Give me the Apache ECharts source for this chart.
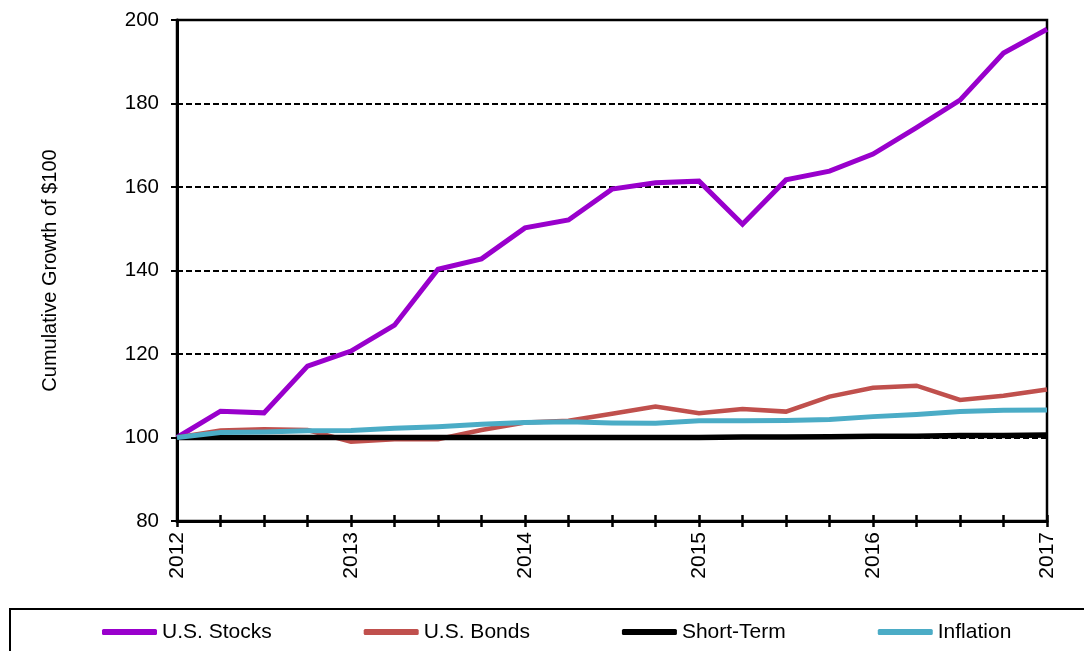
<!DOCTYPE html>
<html>
<head>
<meta charset="utf-8">
<script src="https://cdn.jsdelivr.net/npm/echarts@6/dist/echarts.min.js"></script>
<style>
  html, body { margin: 0; padding: 0; background: #fff; }
  #chart { width: 1084px; height: 651px; }
</style>
</head>
<body>
<div id="chart"></div>
<script>
// quarterly points, labels only shown on the year marks
var quarters = [
  "2012", "2012 Q2", "2012 Q3", "2012 Q4",
  "2013", "2013 Q2", "2013 Q3", "2013 Q4",
  "2014", "2014 Q2", "2014 Q3", "2014 Q4",
  "2015", "2015 Q2", "2015 Q3", "2015 Q4",
  "2016", "2016 Q2", "2016 Q3", "2016 Q4",
  "2017"
];
var stocks = [100, 106.3, 105.9, 117.1, 120.7, 126.9, 140.3, 142.8, 150.2, 152.1, 159.5,
  161.0, 161.4, 151.1, 161.7, 163.8, 167.9, 174.2, 180.8, 192.1, 197.8];
var bonds = [100, 101.7, 102.0, 101.8, 99.0, 99.6, 99.6, 101.8, 103.6, 104.0, 105.7,
  107.4, 105.8, 106.8, 106.2, 109.8, 111.9, 112.4, 109.0, 110.0, 111.5];
var shortTerm = [100, 100.0, 100.0, 100.0, 100.0, 100.0, 100.0, 100.0, 100.0, 100.0, 100.0,
  100.0, 100.0, 100.1, 100.1, 100.2, 100.3, 100.3, 100.5, 100.5, 100.6];
var inflation = [100, 101.2, 101.3, 101.6, 101.7, 102.2, 102.6, 103.2, 103.6, 103.8, 103.5,
  103.4, 104.0, 104.0, 104.1, 104.3, 105.0, 105.5, 106.2, 106.5, 106.6];
var yTicks = { min: 80, max: 200, step: 20 };

var font = "Liberation Sans, Arial, sans-serif";
var chart = echarts.init(document.getElementById("chart"));

function line(name, data, color, width) {
  return {
    name: name,
    type: "line",
    data: data,
    symbol: "none",
    color: color,
    lineStyle: { width: width, color: color, join: "miter" },
    animation: false
  };
}

chart.setOption({
  animation: false,
  grid: {
    left: 177, right: 37, top: 20, bottom: 130,
    show: true, borderColor: "#000", borderWidth: 2.5
  },
  legend: {
    left: 102, top: 621, padding: 0,
    itemWidth: 55, itemHeight: 6, itemGap: 92,
    icon: "roundRect",
    textStyle: { fontFamily: font, fontSize: 21, color: "#000", lineHeight: 22 },
    data: ["U.S. Stocks", "U.S. Bonds", "Short-Term", "Inflation"]
  },
  graphic: [{
    type: "rect",
    shape: { x: 10, y: 609, width: 1090, height: 60 },
    style: { fill: "none", stroke: "#000", lineWidth: 2 },
    silent: true
  }],
  xAxis: [{
    type: "category",
    data: quarters,
    boundaryGap: false,
    axisLine: { lineStyle: { color: "#000", width: 3 } },
    axisTick: { show: true, interval: 0, length: 6, lineStyle: { color: "#000", width: 2.5 } },
    axisLabel: {
      interval: 3, rotate: 90, margin: 11,
      fontFamily: font, fontSize: 21, color: "#000"
    },
    splitLine: { show: false }
  }, {
    // second copy so the ticks cross the axis line
    type: "category",
    data: quarters,
    boundaryGap: false,
    position: "bottom",
    axisLine: { show: false },
    axisTick: { show: true, inside: true, interval: 0, length: 6, lineStyle: { color: "#000", width: 2.5 } },
    axisLabel: { show: false },
    splitLine: { show: false }
  }],
  yAxis: {
    type: "value",
    min: yTicks.min, max: yTicks.max, interval: yTicks.step,
    name: "Cumulative Growth of $100",
    nameLocation: "middle",
    nameGap: 117,
    nameTextStyle: { fontFamily: font, fontSize: 20, color: "#000" },
    axisLine: { show: true, lineStyle: { color: "#000", width: 3 } },
    axisTick: { show: true, length: 6, lineStyle: { color: "#000", width: 2 } },
    axisLabel: { fontFamily: font, fontSize: 20.5, color: "#000", margin: 18 },
    splitLine: { show: true, lineStyle: { color: "#000", width: 2, type: [6, 3] } }
  },
  series: [
    line("U.S. Stocks", stocks, "#9900CC", 5),
    line("U.S. Bonds", bonds, "#C0504D", 4.5),
    line("Short-Term", shortTerm, "#000000", 5.5),
    line("Inflation", inflation, "#4BACC6", 5)
  ]
});
</script>
</body>
</html>
